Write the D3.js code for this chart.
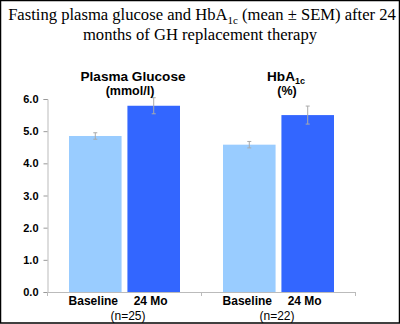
<!DOCTYPE html>
<html><head><meta charset="utf-8">
<script src="https://cdn.jsdelivr.net/npm/d3@7"></script>
<style>
html,body{margin:0;padding:0;background:#fff;}
svg{display:block;}
</style></head>
<body>
<svg id="c" width="400" height="324"></svg>
<script>
const groups = ["Plasma Glucose", "HbA1c"];
const groupUnits = ["(mmol/l)", "(%)"];
const groupN = ["(n=25)", "(n=22)"];
const series = ["Baseline", "24 Mo"];
const baselineValues = [4.85, 4.58];
const month24Values = [5.79, 5.50];
const baselineSEM = [0.10, 0.10];
const month24SEM = [0.25, 0.28];
const yTicks = [0, 1, 2, 3, 4, 5, 6];
const colors = ["#99CCFF", "#3366FF"];

const svg = d3.select("#c");
// frame
svg.append("rect").attr("x",0.5).attr("y",0.5).attr("width",399).attr("height",322.5)
  .attr("fill","none").attr("stroke","#000").attr("stroke-width",1.5);

// title
const title = svg.append("text").attr("text-anchor","middle")
  .attr("font-family","'Liberation Serif','Times New Roman',serif").attr("font-size",16.6).attr("fill","#000");
const t1 = title.append("tspan").attr("x",202).attr("y",20);
t1.append("tspan").text("Fasting plasma glucose and HbA");
t1.append("tspan").attr("font-size",11).attr("dy",4).text("1c");
t1.append("tspan").attr("dy",-4).text(" (mean \u00b1 SEM) after 24");
title.append("tspan").attr("x",200).attr("y",40).text("months of GH replacement therapy");

const y = d3.scaleLinear().domain([0,6]).range([292,99]);
const x0 = d3.scaleBand().domain(groups).range([47,355]).padding(0);
const x1 = d3.scaleBand().domain(series).range([22,133]).paddingInner(0.1);

const sans = "'Liberation Sans',Arial,sans-serif";

// y axis
const yAxis = d3.axisLeft(y).tickValues(yTicks).tickFormat(d3.format(".1f")).tickSize(4).tickPadding(5);
const ya = svg.append("g").attr("transform","translate(47.5,0)").call(yAxis);
ya.select(".domain").attr("stroke","#bbb");
ya.selectAll(".tick line").attr("stroke","#999");
ya.selectAll(".tick text").attr("font-family",sans).attr("font-weight","bold").attr("font-size",11).attr("fill","#000");

// x axis line with ticks at group boundaries
const xa = svg.append("g");
xa.append("line").attr("x1",47).attr("x2",355).attr("y1",292.5).attr("y2",292.5).attr("stroke","#bbb");
const bounds = [x0.range()[0], x0(groups[1]), x0.range()[1]];
xa.selectAll("line.tk").data(bounds).enter().append("line")
  .attr("x1",d=>d+0.5).attr("x2",d=>d+0.5).attr("y1",292).attr("y2",296).attr("stroke","#bbb");

const data = groups.map((g,i)=>({g, vals:[
  {s:series[0], v:baselineValues[i], e:baselineSEM[i], c:colors[0]},
  {s:series[1], v:month24Values[i], e:month24SEM[i], c:colors[1]}]}));

const gg = svg.selectAll("g.grp").data(data).enter().append("g")
  .attr("transform",d=>`translate(${x0(d.g)},0)`);

gg.selectAll("rect").data(d=>d.vals).enter().append("rect")
  .attr("x",d=>x1(d.s)).attr("width",x1.bandwidth())
  .attr("y",d=>y(d.v)).attr("height",d=>y(0)-y(d.v)).attr("fill",d=>d.c);

// error bars
const eb = gg.selectAll("g.eb").data(d=>d.vals).enter().append("g")
  .attr("stroke","#aaa").attr("stroke-width",1);
eb.append("line").attr("x1",d=>x1(d.s)+x1.bandwidth()/2).attr("x2",d=>x1(d.s)+x1.bandwidth()/2)
  .attr("y1",d=>y(d.v+d.e)).attr("y2",d=>y(d.v-d.e));
eb.append("line").attr("x1",d=>x1(d.s)+x1.bandwidth()/2-2).attr("x2",d=>x1(d.s)+x1.bandwidth()/2+2)
  .attr("y1",d=>y(d.v+d.e)).attr("y2",d=>y(d.v+d.e));
eb.append("line").attr("x1",d=>x1(d.s)+x1.bandwidth()/2-2).attr("x2",d=>x1(d.s)+x1.bandwidth()/2+2)
  .attr("y1",d=>y(d.v-d.e)).attr("y2",d=>y(d.v-d.e));

// category labels
gg.selectAll("text.cat").data(d=>d.vals).enter().append("text")
  .attr("x",d=>x1(d.s)+x1.bandwidth()/2 + (d.s===series[1]?-3:-2)).attr("y",305)
  .attr("text-anchor","middle").attr("font-family",sans).attr("font-weight","bold").attr("font-size",12)
  .text(d=>d.s);
gg.append("text").attr("x",(d,i)=>77+ (i===0?4:-1)).attr("y",320).attr("text-anchor","middle")
  .attr("font-family",sans).attr("font-size",12).attr("fill","#000")
  .text((d,i)=>groupN[i]);

// group titles
const gt = gg.append("text").attr("x",(d,i)=> i===0?86:85).attr("y",81).attr("text-anchor","middle")
  .attr("font-family",sans).attr("font-weight","bold").attr("font-size",13.6);
gt.each(function(d,i){
  const t = d3.select(this);
  if (d.g==="HbA1c"){
    t.append("tspan").text("HbA");
    t.append("tspan").attr("font-size",9).attr("dy",3).text("1c");
  } else t.text(d.g);
});
gg.append("text").attr("x",(d,i)=> i===0?83:86).attr("y",95).attr("text-anchor","middle")
  .attr("font-family",sans).attr("font-weight","bold").attr("font-size",12.5)
  .text((d,i)=>groupUnits[i]);
</script>
</body></html>
